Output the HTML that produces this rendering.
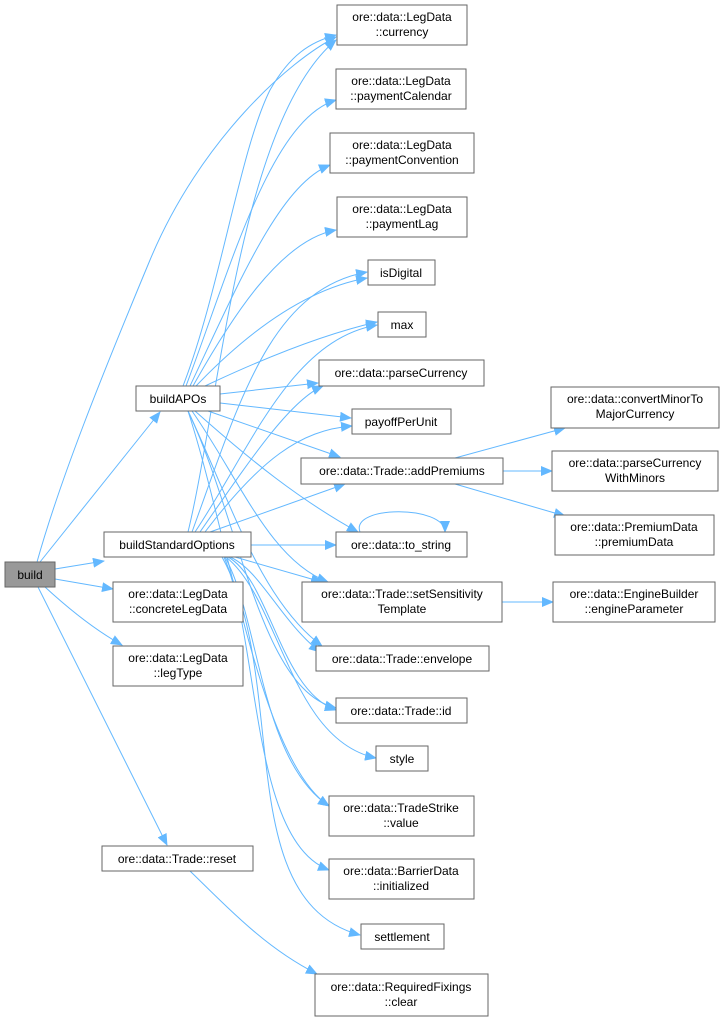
<!DOCTYPE html>
<html><head><meta charset="utf-8"><style>
body{margin:0;background:#fff;width:724px;height:1020px;overflow:hidden}
svg{display:block}
text{font-family:"Liberation Sans",Arial,sans-serif;font-size:12px;fill:#000}
.b{fill:#fff;stroke:#666;stroke-width:1}
.e{fill:none;stroke:#63b8ff;stroke-width:1}
</style></head><body>
<svg width="724" height="1020" viewBox="0 0 724 1020">
<defs><marker id="a" markerWidth="12" markerHeight="10" refX="11" refY="5" orient="auto" markerUnits="userSpaceOnUse"><path d="M0,0 L12,5 L0,10 z" fill="#63b8ff"/></marker></defs>
<g class="e" marker-end="url(#a)">
<path d="M37,562 C60,480 100,380 150,260 C200,140 290,60 336,37"/>
<path d="M40,562 L160,412"/>
<path d="M55,569 L104,561"/>
<path d="M55,579 L113,589"/>
<path d="M45,587 C70,610 95,630 122,645"/>
<path d="M38,587 L167,845"/>
<path d="M183,386 C220,290 240,150 270,90 C290,55 310,42 336,35"/>
<path d="M186,386 C230,270 270,120 336,100"/>
<path d="M190,386 C240,280 280,185 330,165"/>
<path d="M193,386 C230,320 280,240 336,230"/>
<path d="M196,386 C240,340 300,290 367,278"/>
<path d="M205,386 C260,360 320,335 377,322"/>
<path d="M220,394 L318,383"/>
<path d="M220,403 L351,418"/>
<path d="M208,411 L340,457"/>
<path d="M195,411 C250,460 300,500 358,532"/>
<path d="M192,411 C240,480 270,560 328,582"/>
<path d="M188,411 C230,500 260,600 322,646"/>
<path d="M188,411 C240,520 260,690 336,708"/>
<path d="M188,411 C230,540 260,760 329,806"/>
<path d="M188,532 C220,400 240,120 336,40"/>
<path d="M192,532 C240,400 270,290 367,272"/>
<path d="M195,532 C250,450 290,340 377,325"/>
<path d="M200,532 C250,460 290,400 323,386"/>
<path d="M205,532 C260,460 300,430 352,426"/>
<path d="M210,532 L345,484"/>
<path d="M251,545 L336,545"/>
<path d="M235,557 L322,582"/>
<path d="M230,557 C260,570 280,620 320,652"/>
<path d="M228,557 C270,580 280,690 336,710"/>
<path d="M226,557 C280,600 290,740 376,758"/>
<path d="M225,557 C260,620 260,760 329,806"/>
<path d="M224,557 C260,640 250,840 329,870"/>
<path d="M222,557 C290,680 230,900 360,935"/>
<path d="M190,871 C240,920 270,950 317,974"/>
<path d="M455,458 L565,428"/>
<path d="M503,471 L552,471"/>
<path d="M455,484 L565,516"/>
<path d="M360,532 C350,505 445,505 445,532"/>
<path d="M502,602 L553,602"/>
</g>
<rect x="5" y="562" width="50" height="25" fill="#999" stroke="#666"/><text x="30" y="579" text-anchor="middle">build</text>
<rect class="b" x="136" y="386" width="84" height="25"/><text x="178" y="403" text-anchor="middle">buildAPOs</text>
<rect class="b" x="104" y="532" width="147" height="25"/><text x="177" y="549" text-anchor="middle">buildStandardOptions</text>
<rect class="b" x="113" y="582" width="130" height="40"/><text x="178" y="598" text-anchor="middle">ore::data::LegData</text><text x="178" y="613" text-anchor="middle">::concreteLegData</text>
<rect class="b" x="113" y="646" width="130" height="40"/><text x="178" y="662" text-anchor="middle">ore::data::LegData</text><text x="178" y="677" text-anchor="middle">::legType</text>
<rect class="b" x="102" y="846" width="151" height="25"/><text x="177" y="863" text-anchor="middle">ore::data::Trade::reset</text>
<rect class="b" x="337" y="5" width="130" height="40"/><text x="402" y="21" text-anchor="middle">ore::data::LegData</text><text x="402" y="36" text-anchor="middle">::currency</text>
<rect class="b" x="336" y="69" width="130" height="40"/><text x="401" y="85" text-anchor="middle">ore::data::LegData</text><text x="401" y="100" text-anchor="middle">::paymentCalendar</text>
<rect class="b" x="330" y="133" width="144" height="40"/><text x="402" y="149" text-anchor="middle">ore::data::LegData</text><text x="402" y="164" text-anchor="middle">::paymentConvention</text>
<rect class="b" x="337" y="197" width="130" height="40"/><text x="402" y="213" text-anchor="middle">ore::data::LegData</text><text x="402" y="228" text-anchor="middle">::paymentLag</text>
<rect class="b" x="368" y="260" width="67" height="25"/><text x="401" y="277" text-anchor="middle">isDigital</text>
<rect class="b" x="378" y="312" width="48" height="25"/><text x="402" y="329" text-anchor="middle">max</text>
<rect class="b" x="319" y="360" width="165" height="26"/><text x="401" y="377" text-anchor="middle">ore::data::parseCurrency</text>
<rect class="b" x="352" y="409" width="99" height="25"/><text x="401" y="426" text-anchor="middle">payoffPerUnit</text>
<rect class="b" x="301" y="458" width="202" height="26"/><text x="402" y="475" text-anchor="middle">ore::data::Trade::addPremiums</text>
<rect class="b" x="336" y="532" width="131" height="25"/><text x="401" y="549" text-anchor="middle">ore::data::to_string</text>
<rect class="b" x="302" y="582" width="200" height="40"/><text x="402" y="598" text-anchor="middle">ore::data::Trade::setSensitivity</text><text x="402" y="613" text-anchor="middle">Template</text>
<rect class="b" x="316" y="646" width="173" height="25"/><text x="402" y="663" text-anchor="middle">ore::data::Trade::envelope</text>
<rect class="b" x="336" y="698" width="131" height="25"/><text x="401" y="715" text-anchor="middle">ore::data::Trade::id</text>
<rect class="b" x="376" y="746" width="52" height="25"/><text x="402" y="763" text-anchor="middle">style</text>
<rect class="b" x="329" y="796" width="145" height="40"/><text x="401" y="812" text-anchor="middle">ore::data::TradeStrike</text><text x="401" y="827" text-anchor="middle">::value</text>
<rect class="b" x="329" y="859" width="145" height="40"/><text x="401" y="875" text-anchor="middle">ore::data::BarrierData</text><text x="401" y="890" text-anchor="middle">::initialized</text>
<rect class="b" x="361" y="924" width="83" height="25"/><text x="402" y="941" text-anchor="middle">settlement</text>
<rect class="b" x="315" y="974" width="173" height="42"/><text x="401" y="991" text-anchor="middle">ore::data::RequiredFixings</text><text x="401" y="1006" text-anchor="middle">::clear</text>
<rect class="b" x="551" y="387" width="168" height="41"/><text x="635" y="403" text-anchor="middle">ore::data::convertMinorTo</text><text x="635" y="418" text-anchor="middle">MajorCurrency</text>
<rect class="b" x="552" y="451" width="166" height="40"/><text x="635" y="467" text-anchor="middle">ore::data::parseCurrency</text><text x="635" y="482" text-anchor="middle">WithMinors</text>
<rect class="b" x="555" y="515" width="159" height="40"/><text x="634" y="531" text-anchor="middle">ore::data::PremiumData</text><text x="634" y="546" text-anchor="middle">::premiumData</text>
<rect class="b" x="553" y="582" width="162" height="40"/><text x="634" y="598" text-anchor="middle">ore::data::EngineBuilder</text><text x="634" y="613" text-anchor="middle">::engineParameter</text>
</svg>
</body></html>
